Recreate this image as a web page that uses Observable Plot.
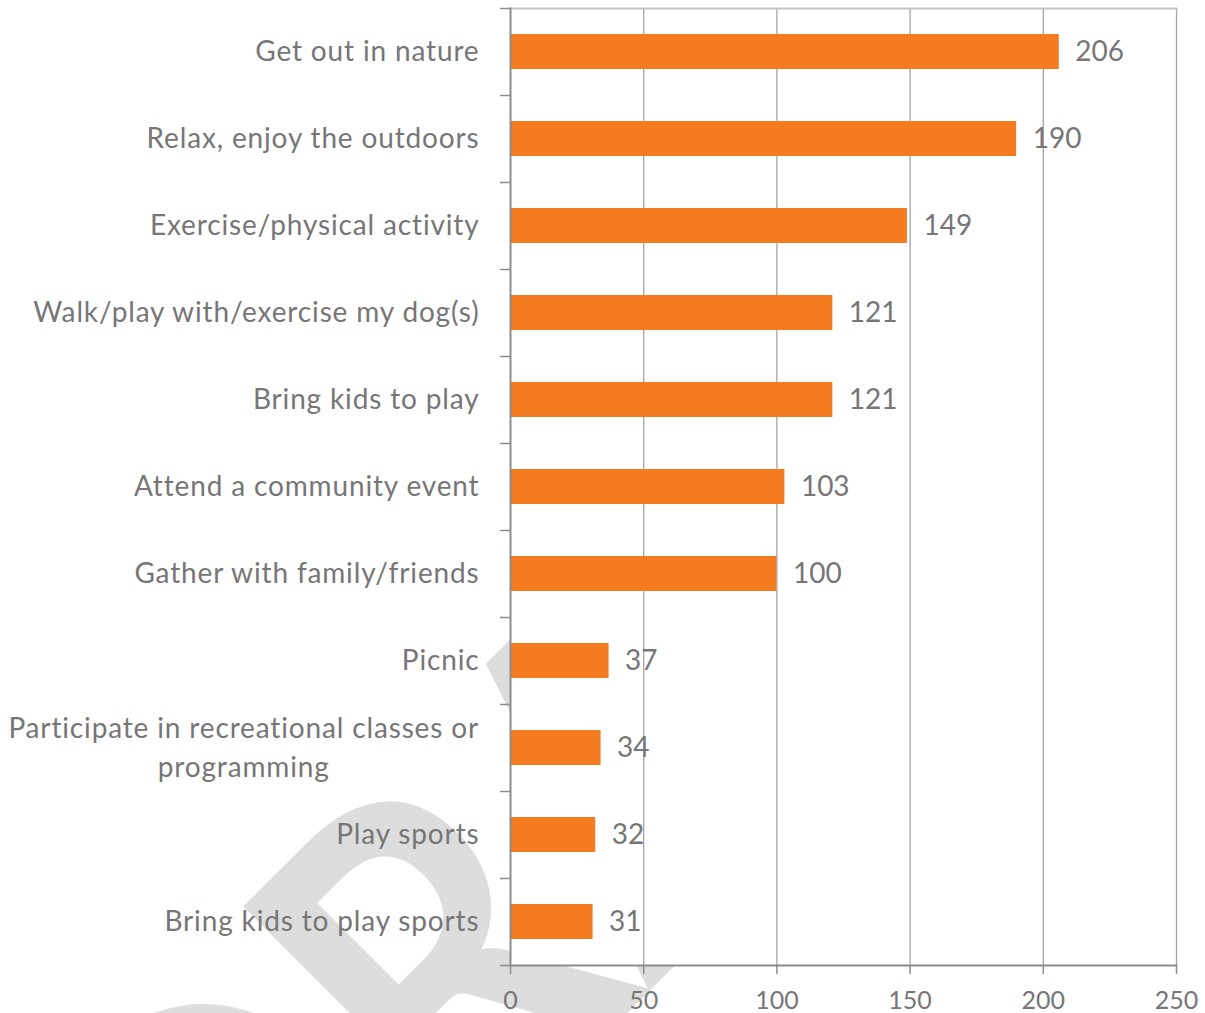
<!DOCTYPE html>
<html><head><meta charset="utf-8">
<script src="https://cdn.jsdelivr.net/npm/d3@7"></script>
<script src="https://cdn.jsdelivr.net/npm/@observablehq/plot@0.6"></script>
<style>html,body{margin:0;padding:0;background:#fff;} #chart{width:1205px;height:1013px;overflow:hidden;}</style>
</head><body><div id="chart"></div>
<script>
const categories = [
  "Get out in nature",
  "Relax, enjoy the outdoors",
  "Exercise/physical activity",
  "Walk/play with/exercise my dog(s)",
  "Bring kids to play",
  "Attend a community event",
  "Gather with family/friends",
  "Picnic",
  "Participate in recreational classes or\nprogramming",
  "Play sports",
  "Bring kids to play sports"
];
const values = [206, 190, 149, 121, 121, 103, 100, 37, 34, 32, 31];
const xTicks = [0, 50, 100, 150, 200, 250];
const watermark = "DRAFT";

const data = categories.map((c, i) => ({category: c, value: values[i]}));
const single = data.filter(d => !d.category.includes("\n"));
const multi = data.filter(d => d.category.includes("\n"));

const FONT = "Lato";
const FS = 28;
const LS = 0.85; // letter spacing of category labels
const textColor = "#767676";
const axisColor = "#8c8c8c";

const ctx = document.createElement("canvas").getContext("2d");
function measure(t, font) {
  ctx.font = font;
  return ctx.measureText(t).width;
}
const multiW = multi.length
  ? Math.max(...multi[0].category.split("\n").map(l => measure(l, `${FS}px ${FONT}`) + LS * l.length))
  : 0;

const plot = Plot.plot({
  width: 1205, height: 1013,
  marginLeft: 510, marginRight: 29, marginTop: 8, marginBottom: 48,
  style: {background: "transparent", fontFamily: FONT, fontSize: FS + "px", color: textColor},
  x: {domain: [0, 250], ticks: xTicks, label: null},
  y: {domain: categories, padding: 0, label: null},
  marks: [
    Plot.frame({fill: "white", stroke: null}),
    Plot.gridX(xTicks.slice(1), {stroke: "#a3a3a3", strokeOpacity: 1, strokeWidth: 1.3}),
    Plot.frame({anchor: "top", stroke: "#c4c4c4", strokeWidth: 2}),
    Plot.barX(data, {x: "value", y: "category", fill: "#F47B20", insetTop: 26, insetBottom: 26}),
    Plot.frame({anchor: "left", stroke: axisColor, strokeWidth: 2}),
    Plot.frame({anchor: "bottom", stroke: axisColor, strokeWidth: 2}),
    Plot.axisY({ticks: categories, tickSize: 10, tickFormat: () => "", dy: -43.5, stroke: axisColor, strokeWidth: 1.5, label: null}),
    Plot.axisY({ticks: [categories[categories.length - 1]], tickSize: 10, tickFormat: () => "", dy: 43.5, stroke: axisColor, strokeWidth: 1.5, label: null}),
    Plot.axisX({ticks: xTicks, tickSize: 9, tickPadding: 17, fontSize: 25, fill: textColor, stroke: axisColor, strokeWidth: 1.5, label: null}),
    Plot.text(single, {y: "category", text: "category", frameAnchor: "left", textAnchor: "end", dx: -31, fill: textColor, fontSize: FS}),
    Plot.text(multi, {y: "category", text: "category", frameAnchor: "left", textAnchor: "middle", dx: -(31 + multiW / 2), dy: -3, lineHeight: 1.39, fill: textColor, fontSize: FS}),
    Plot.text(data, {x: "value", y: "category", text: d => String(d.value), textAnchor: "start", dx: 16, fill: textColor, fontSize: FS})
  ]
});

// letter spacing on the two category-label text marks
const textGroups = d3.select(plot).selectAll('g[aria-label="text"]').nodes();
textGroups.slice(0, 2).forEach(g => d3.select(g).style("letter-spacing", LS + "px"));

// watermark "DRAFT", rotated, behind the white plot area
const WS = 480, SX = 0.85, S2 = Math.SQRT2;
const wFont = `bold ${WS}px ${FONT}`;
const dW = measure(watermark[0], wFont) * SX;
const dBase = 1160;              // baseline, distance along the down-right diagonal
const uR = -502;                 // origin of the 2nd letter along the up-right diagonal
const uD = uR - dW;
const ox = (uD + dBase) / S2, oy = (dBase - uD) / S2;
d3.select(plot).insert("text", ":first-child")
  .attr("transform", `translate(${ox},${oy}) rotate(-45) scale(${SX},1)`)
  .attr("text-anchor", "start")
  .attr("font-family", FONT)
  .attr("font-weight", "bold")
  .attr("font-size", WS)
  .attr("fill", "#dddddd")
  .text(watermark);

document.getElementById("chart").appendChild(plot);
</script>
</body></html>
